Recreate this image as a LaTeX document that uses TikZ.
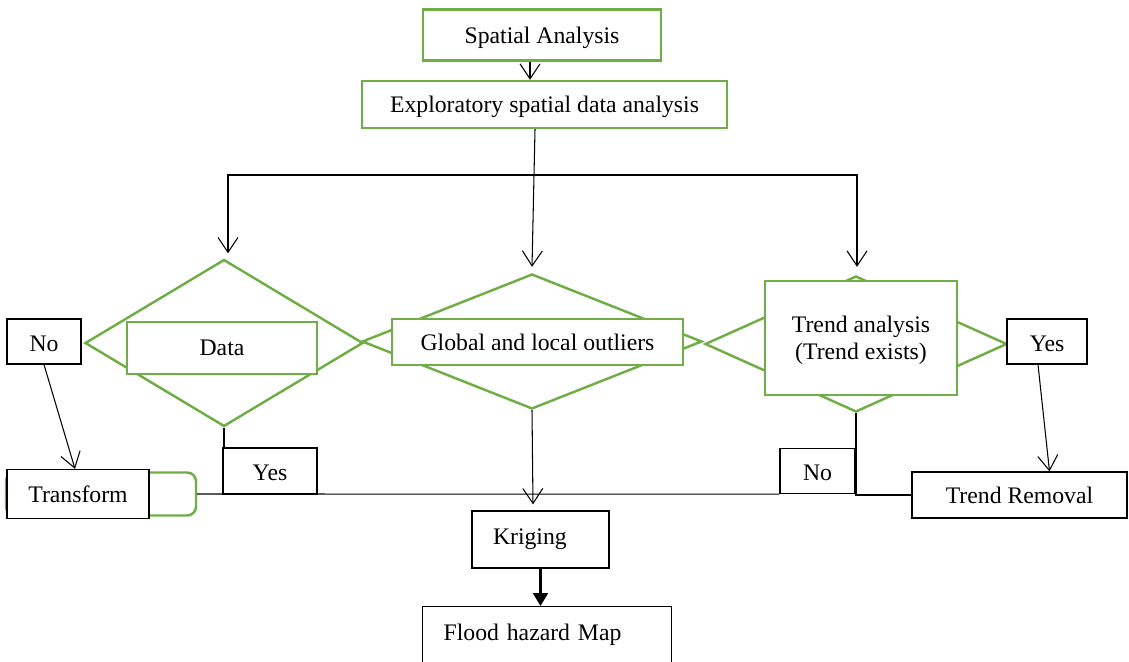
\documentclass[tikz,border=0pt]{standalone}
\usepackage{fontspec}
\setmainfont{Liberation Serif}
\usetikzlibrary{positioning, shapes.geometric, arrows.meta}
\definecolor{leafgreen}{RGB}{112,173,71}

\begin{document}
\begin{tikzpicture}[
    x=0.02cm, y=-0.02cm,
    font=\fontsize{13.5}{15.5}\selectfont,
    gbox/.style={rectangle, draw=leafgreen, line width=1.4pt, fill=white,
      align=center, inner sep=0pt, text depth=0pt},
    bbox/.style={rectangle, draw=black, line width=0.7pt, fill=white,
      align=center, inner sep=0pt},
    answer/.style={bbox, text height=0.4cm, text depth=0pt},
    gdia/.style={diamond, draw=leafgreen, line width=1.4pt, inner sep=0pt},
    arrow/.style={-{Straight Barb[length=3mm, width=4mm]}, line width=0.6pt},
    link/.style={line width=0.6pt},
  ]
    \useasboundingbox (0,0) rectangle (1129,662);

    \node[gbox, minimum width=4.76cm, minimum height=1.02cm] (spatial) at (542,35) {Spatial Analysis};
    \node[gbox, minimum width=7.3cm, minimum height=0.94cm]  (esda)    at (544.5,104.5) {Exploratory spatial data analysis};

    % decision diamonds
    \node[gdia, minimum width=5.56cm, minimum height=3.34cm] (datadia)  at (224,343) {};
    \node[gdia, minimum width=6.8cm, minimum height=2.7cm]   (globdia)  at (532,341.5) {};
    \node[gdia, minimum width=6.04cm, minimum height=2.72cm] (trenddia) at (856,344) {};
    \node[gbox, minimum width=3.8cm, minimum height=1.04cm]  (datarect)  at (222,348) {Data};
    \node[gbox, minimum width=5.82cm, minimum height=0.92cm] (globrect)  at (537.5,342) {Global and local outliers};
    \node[gbox, minimum width=3.84cm, minimum height=2.28cm] (trendrect) at (861,338) {Trend analysis\\(Trend exists)};

    \node[answer, minimum width=1.48cm, minimum height=0.9cm] (noL)  at (44,341.5) {No};
    \node[answer, minimum width=1.6cm, minimum height=0.9cm]  (yesR) at (1047,341.5) {Yes};

    \node[gbox, rounded corners=5pt, minimum width=3.8cm, minimum height=0.86cm] (transback) at (101,494) {};
    \node[bbox, minimum width=2.84cm, minimum height=0.98cm] (transform) at (78,494) {Transform};
    \node[answer, minimum width=1.88cm, minimum height=0.92cm] (yesL)  at (270,471) {Yes};
    \node[answer, minimum width=1.5cm, minimum height=0.9cm]   (noR)   at (817.5,471) {No};
    \node[bbox, minimum width=4.3cm, minimum height=0.92cm]  (removal) at (1019.5,495) {Trend Removal};

    \node[bbox, text width=1.9cm, align=left, inner xsep=0.42cm, minimum height=1.14cm] (kriging) at (540.5,539.5) {Kriging};
    \node[bbox, anchor=north west, text width=4.14cm, align=left, inner xsep=0.42cm,
      inner ysep=0.25cm, text height=0.42cm, text depth=0.8cm] (flood) at (422,606) {Flood hazard Map};

    \coordinate (fork) at (534,175);

    \draw[arrow] ([xshift=-0.24cm]spatial.south) -- ([xshift=-0.24cm]spatial.south |- esda.north);
    \draw[arrow] ([xshift=-0.19cm]esda.south) -- ([yshift=0.12cm]globdia.north);
    \draw[arrow] (fork) -| ([xshift=0.08cm, yshift=0.1cm]datadia.north);
    \draw[arrow] (fork) -| ([xshift=0.02cm, yshift=0.16cm]trenddia.north);

    \draw[arrow] (noL.south) -- ([xshift=-0.06cm]transform.north);
    \draw[arrow] ([xshift=-0.18cm]yesR.south) -- ([xshift=0.6cm]removal.north);
    \draw[link] (datadia.south) -- (datadia.south |- yesL.north);
    \draw[link] (transback.east) -- (noR.south west);
    \draw[link] (trenddia.south) |- (removal.west);

    \draw[arrow] (globdia.south) -- ([xshift=-0.15cm, yshift=0.12cm]kriging.north);
    \draw[-{Triangle[length=2.6mm, width=3mm]}, line width=1.2pt] (kriging.south) -- (kriging.south |- flood.north);
  \end{tikzpicture}
\end{document}
